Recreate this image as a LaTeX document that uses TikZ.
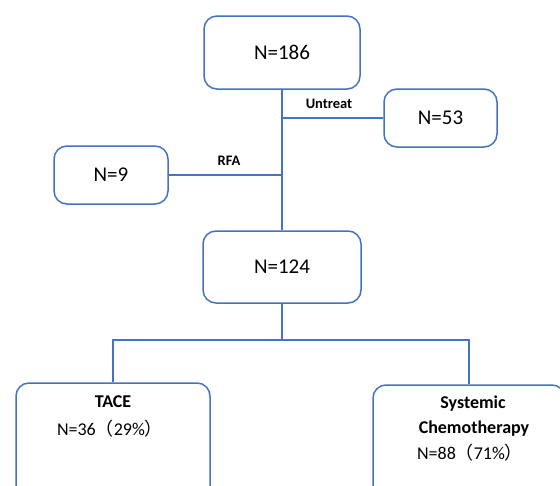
\documentclass[tikz,border=0pt]{standalone}
\usepackage{fontspec}
\setmainfont{Carlito}
\newfontfamily\cjk{Noto Sans CJK SC}
\definecolor{lineblue}{RGB}{68,114,196}
\begin{document}
\begin{tikzpicture}[x=1pt,y=-1pt,
  box/.style={draw=lineblue,line width=1.5pt,rounded corners=13pt,inner sep=0pt,fill=white},
  conn/.style={draw=lineblue,line width=1.5pt},
  big/.style={font=\fontsize{21}{24}\selectfont},
  lab/.style={font=\bfseries\fontsize{14.5}{16}\selectfont,inner sep=0pt},
  txt/.style={inner sep=0pt,font=\fontsize{18}{21}\selectfont}]
\clip (0,0) rectangle (560,485);
\fill[white] (0,0) rectangle (560,485);
\node[box,big,minimum width=156pt,minimum height=73pt] (n186) at (282,52.5) {N=186};
\node[box,big,minimum width=113pt,minimum height=58pt] (n53) at (440.5,118) {N=53};
\node[box,big,minimum width=114pt,minimum height=58pt] (n9) at (111,175) {N=9};
\node[box,big,minimum width=158pt,minimum height=72pt] (n124) at (282,267) {N=124};
\node[box,minimum width=194pt,minimum height=117pt] (tace) at (113,441.5) {};
\node[box,minimum width=192pt,minimum height=115pt] (sys) at (469,442.5) {};
\node[txt,font=\bfseries\fontsize{18}{21}\selectfont] (tacet) at (113,402) {TACE};
\node[txt] (tacen) at (110,429) {N=36{\cjk （}29\%{\cjk ）}};
\node[txt,font=\bfseries\fontsize{18}{21}\selectfont] (syst1) at (473,404) {Systemic};
\node[txt,font=\bfseries\fontsize{18}{21}\selectfont] (syst2) at (474,429) {Chemotherapy};
\node[txt] (sysn) at (470,453) {N=88{\cjk （}71\%{\cjk ）}};
\draw[conn] (n186.south) -- (n124.north);
\draw[conn] (n53.west) -- (n53.west -| n186.south);
\draw[conn] (n9.east) -- (n9.east -| n186.south);
\coordinate (split) at (282,340);
\draw[conn] (n124.south) -- (split);
\draw[conn] (tace.north) |- (split) -| (sys.north);
\node[lab] (untreat) at (329,104) {Untreat};
\node[lab] (rfa) at (229,161) {RFA};
\end{tikzpicture}
\end{document}
